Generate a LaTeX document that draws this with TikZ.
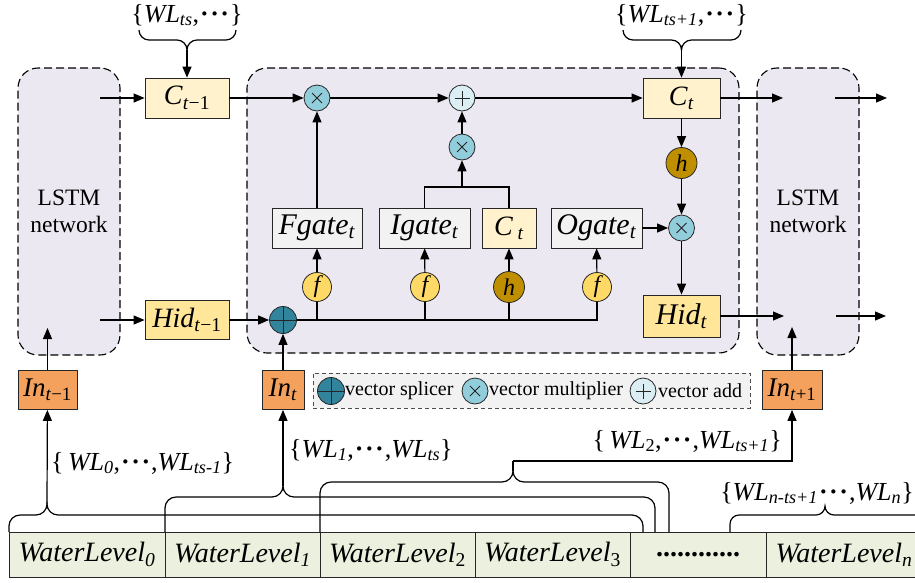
\documentclass[tikz,border=0pt]{standalone}
\usepackage{fontspec}
\setmainfont{Liberation Serif}
\usetikzlibrary{arrows.meta,calc}
\definecolor{lstmbg}{HTML}{EBE8F1}
\definecolor{cyel}{HTML}{FFF2CC}
\definecolor{hyel}{HTML}{FFE699}
\definecolor{inorg}{HTML}{F4A15D}
\definecolor{gatebg}{HTML}{F2F2F2}
\definecolor{cmul}{HTML}{92CDDC}
\definecolor{cadd}{HTML}{DAEEF3}
\definecolor{cspl}{HTML}{31849B}
\definecolor{cf}{HTML}{FFD966}
\definecolor{chg}{HTML}{BF8F00}
\definecolor{wlgreen}{HTML}{EBF1DE}
\newcommand{\Ti}[1]{\textit{#1}}
\newcommand{\Sb}[1]{\textsubscript{#1}}
\newcommand{\cdts}{\kern1pt\textbf{·}\kern1.5pt\textbf{·}\kern1.5pt\textbf{·}\kern1pt}
\newcommand{\botbrace}[6]{% x0,px,x1,yh,yc,r
  \draw[ln] (#1,#5) -- (#1,#4+#6) arc[start angle=180,end angle=270,radius=#6]
    -- (#2-#6,#4) arc[start angle=90,end angle=0,radius=#6]
    arc[start angle=180,end angle=90,radius=#6]
    -- (#3-#6,#4) arc[start angle=270,end angle=360,radius=#6] -- (#3,#5);}
\newcommand{\topbrace}[5]{% x0,px,x1,yh,r
  \draw[ln] (#1,#4-#5) arc[start angle=180,end angle=90,radius=#5]
    -- (#2-#5,#4) arc[start angle=270,end angle=360,radius=#5]
    arc[start angle=180,end angle=270,radius=#5]
    -- (#3-#5,#4) arc[start angle=90,end angle=0,radius=#5];}
\tikzset{
  ln/.style={line width=1.2pt},
  arr/.style={line width=1.2pt,-{Triangle[length=11pt,width=9pt]}},
  cont/.style={draw=black, line width=1.1pt, dash pattern=on 8pt off 4pt, fill=lstmbg,
    rounded corners=20pt, align=center, font=\fontsize{23.5}{27}\selectfont},
  box/.style={draw=black!85, line width=0.8pt, inner sep=0, font=\fontsize{28}{30}\selectfont},
  inbox/.style={box, fill=inorg, minimum height=39pt, font=\fontsize{27}{30}\selectfont},
  gate/.style={box, fill=gatebg, minimum height=40pt, font=\fontsize{30}{32}\selectfont},
  lbl/.style={inner sep=0, font=\fontsize{26}{30}\selectfont},
  legtxt/.style={anchor=west, inner sep=0, font=\fontsize{20}{22}\selectfont},
  cell/.style={draw=black!85, line width=0.8pt, fill=wlgreen, minimum height=45pt, inner sep=0,
    font=\fontsize{28}{30}\selectfont},
  mulnode/.style={circle, draw=black!85, line width=0.8pt, fill=cmul, minimum size=26pt, inner sep=0,
    path picture={\draw[line width=0.9pt]
      ([shift={(-5pt,-5pt)}]path picture bounding box.center) -- ([shift={(5pt,5pt)}]path picture bounding box.center)
      ([shift={(-5pt,5pt)}]path picture bounding box.center) -- ([shift={(5pt,-5pt)}]path picture bounding box.center);}},
  addnode/.style={circle, draw=black!85, line width=0.8pt, fill=cadd, minimum size=26pt, inner sep=0,
    path picture={\draw[line width=0.9pt]
      ([shift={(-7.5pt,0pt)}]path picture bounding box.center) -- ([shift={(7.5pt,0pt)}]path picture bounding box.center)
      ([shift={(0pt,-7.5pt)}]path picture bounding box.center) -- ([shift={(0pt,7.5pt)}]path picture bounding box.center);}},
  splnode/.style={circle, draw=black!85, line width=0.8pt, fill=cspl, minimum size=27pt, inner sep=0,
    path picture={\draw[line width=1pt]
      ([shift={(-14pt,0pt)}]path picture bounding box.center) -- ([shift={(14pt,0pt)}]path picture bounding box.center)
      ([shift={(0pt,-14pt)}]path picture bounding box.center) -- ([shift={(0pt,14pt)}]path picture bounding box.center);}},
  fnode/.style={circle, draw=black!85, line width=0.8pt, fill=cf, minimum size=29pt, inner sep=0,
    font=\fontsize{24}{26}\selectfont\itshape},
  hnode/.style={circle, draw=black!85, line width=0.8pt, fill=chg, minimum size=31pt, inner sep=0,
    font=\fontsize{24}{26}\selectfont\itshape},
}
\begin{document}
\begin{tikzpicture}[x=1pt,y=-1pt]
\useasboundingbox (0,0) rectangle (915,582);
% containers
\node[cont, minimum width=102pt, minimum height=287pt] (L1) at (69,211.5) {LSTM\\network};
\node[cont, minimum width=492pt, minimum height=285pt] (M) at (493,210.5) {};
\node[cont, minimum width=102pt, minimum height=287pt] (L3) at (808,211.5) {LSTM\\network};
% boxes
\node[box, fill=cyel, minimum width=84pt, minimum height=40pt] (Cp) at (187,98) {\Ti{C}\Sb{\Ti{t}−1}};
\node[box, fill=hyel, minimum width=84pt, minimum height=39pt] (Hp) at (187,320) {\Ti{Hid}\Sb{\Ti{t}−1}};
\node[gate, minimum width=90pt] (Fg) at (317,228) {\Ti{Fgate}\Sb{\Ti{t}}};
\node[gate, minimum width=91pt] (Ig) at (424.5,228) {\Ti{Igate}\Sb{\Ti{t}}};
\node[box, fill=cyel, minimum width=54pt, minimum height=40pt] (Cc) at (509,228) {\Ti{C}\,\Sb{\Ti{t}}};
\node[gate, minimum width=91pt] (Og) at (596.5,228) {\Ti{Ogate}\Sb{\Ti{t}}};
\node[box, fill=cyel, minimum width=77pt, minimum height=40pt] (Ct) at (681.5,98) {\Ti{C}\Sb{\Ti{t}}};
\node[box, fill=hyel, minimum width=77pt, minimum height=42pt, font=\fontsize{30}{32}\selectfont] (Ht) at (681.5,316) {\Ti{Hid}\Sb{\Ti{t}}};
\node[inbox, minimum width=59pt] (In1) at (47.5,390) {\Ti{In}\Sb{\Ti{t}−1}};
\node[inbox, minimum width=42pt] (In2) at (283,390) {\Ti{In}\Sb{\Ti{t}}};
\node[inbox, minimum width=60pt] (In3) at (792,390) {\Ti{In}\Sb{\Ti{t}+1}};
% circles
\node[mulnode] (m1) at (317,98) {};
\node[addnode] (a1) at (462,98) {};
\node[mulnode] (m2) at (462,147) {};
\node[mulnode] (m3) at (681.5,228) {};
\node[splnode] (sp) at (283,320) {};
\node[fnode] (f1) at (317,287) {f};
\node[fnode] (f2) at (425,287) {f};
\node[hnode] (h1) at (509,287) {h};
\node[fnode] (f4) at (597,287) {f};
\node[hnode] (h2) at (681.5,163) {h};
% legend
\node[draw=black!70, line width=0.8pt, dash pattern=on 4pt off 3pt, fill=gatebg,
  minimum width=437pt, minimum height=35pt] (leg) at (531.5,390.5) {};
\node[splnode] (lg1) at (331,391) {};
\node[legtxt] (lt1) at (345,391) {vector splicer};
\node[mulnode] (lg2) at (475,391) {};
\node[legtxt] (lt2) at (489,391) {vector multiplier};
\node[addnode] (lg3) at (643,391) {};
\node[legtxt] (lt3) at (658,391) {vector add};
% water level cells
\node[cell, minimum width=156pt] (w0) at (87,554.5) {\Ti{WaterLevel}\Sb{\Ti{0}}};
\node[cell, minimum width=155pt] (w1) at (242.5,554.5) {\Ti{WaterLevel}\Sb{\Ti{1}}};
\node[cell, minimum width=155pt] (w2) at (397.5,554.5) {\Ti{WaterLevel}\Sb{2}};
\node[cell, minimum width=155pt] (w3) at (552.5,554.5) {\Ti{WaterLevel}\Sb{3}};
\node[cell, minimum width=136pt] (w4) at (698,554.5) {\textbf{............}};
\node[cell, minimum width=164pt] (w5) at (848,554.5) {};
\node[inner sep=0, font=\fontsize{28}{30}\selectfont] (w5t) at (844,554.5) {\Ti{WaterLevel}\Sb{\Ti{n}}};
% braces
\topbrace{139}{187}{236}{40}{10}
\topbrace{623}{681.5}{741}{40}{10}
\botbrace{9}{47}{643}{515}{532}{11}
\botbrace{165}{283}{655}{497}{532}{11}
\botbrace{320}{513}{669}{482}{532}{11}
\botbrace{730}{825}{950}{515}{532}{9}
\coordinate (tb1) at (187,50);
\coordinate (tb2) at (681.5,50);
\coordinate (bb1) at (47,504);
\coordinate (bb2) at (283,486);
\coordinate (bb3) at (513,471);
\coordinate (bb3t) at (513,461);
% labels
\node[lbl] (lb1) at (187,15) {\{\Ti{WL}\Sb{\Ti{ts}},\cdts\}};
\node[lbl] (lb2) at (681.5,15) {\{\Ti{WL}\Sb{\Ti{ts+1}},\cdts\}};
\node[lbl, anchor=west] (lb3) at (51,463) {\{\,\Ti{WL}\Sb{\Ti{0}},\cdts,\Ti{WL}\Sb{\Ti{ts-1}}\}};
\node[lbl, anchor=west] (lb4) at (289,450) {\{\Ti{WL}\Sb{\Ti{1}},\cdts,\Ti{WL}\Sb{\Ti{ts}}\}};
\node[lbl, anchor=east] (lb5) at (782,441) {\{\,\Ti{WL}\Sb{2},\cdts,\Ti{WL}\Sb{\Ti{ts+1}}\}};
\node[lbl] (lb6) at (817,493) {\{\Ti{WL}\Sb{\Ti{n-ts+1}}\cdts,\Ti{WL}\Sb{\Ti{n}}\}};
% free ends
\coordinate (lc) at (100,98);
\coordinate (lh) at (100,320);
\coordinate (oc1) at (783,98);
\coordinate (oc2) at (835,98);
\coordinate (oc3) at (887,98);
\coordinate (oh1) at (784,316);
\coordinate (oh2) at (836,316);
\coordinate (oh3) at (886,316);
\coordinate (i1) at (47.5,328);
\coordinate (i3) at (792,327);
\coordinate (jn) at (462,187);
% connectors
\draw[arr] (lc) -- (Cp);
\draw[arr] (lh) -- (Hp);
\draw[arr] (Cp) -- (m1);
\draw[arr] (Hp) -- (sp);
\draw[arr] (In2) -- (sp);
\draw[ln] (sp.east) -| (f4.south);
\draw[ln] (f1.south) -- (f1 |- sp);
\draw[ln] (f2.south) -- (f2 |- sp);
\draw[ln] (h1.south) -- (h1 |- sp);
\draw[arr] (f1) -- (Fg);
\draw[arr] (f2) -- (Ig);
\draw[arr] (h1) -- (Cc);
\draw[arr] (f4) -- (Og);
\draw[arr] (Fg) -- (m1);
\draw[ln] (Ig.north) |- (jn) -| (Cc.north);
\draw[arr] (jn) -- (m2);
\draw[arr] (m2) -- (a1);
\draw[arr] (m1) -- (a1);
\draw[arr] (a1) -- (Ct);
\draw[arr] (tb1) -- (Cp);
\draw[arr] (tb2) -- (Ct);
\draw[arr] (Ct) -- (h2);
\draw[arr] (h2) -- (m3);
\draw[arr] (Og) -- (m3);
\draw[arr] (m3) -- (Ht);
\draw[arr] (Ct.east) -- (oc1);
\draw[arr] (oc2) -- (oc3);
\draw[arr] (Ht.east) -- (oh1);
\draw[arr] (oh2) -- (oh3);
\draw[arr] (In1) -- (i1);
\draw[arr] (In3) -- (i3);
\draw[arr] (bb1) -- (In1);
\draw[arr] (bb2) -- (In2);
\draw[ln] (bb3) -- (bb3t);
\draw[arr] (bb3t) -| (In3.south);
\end{tikzpicture}
\end{document}
